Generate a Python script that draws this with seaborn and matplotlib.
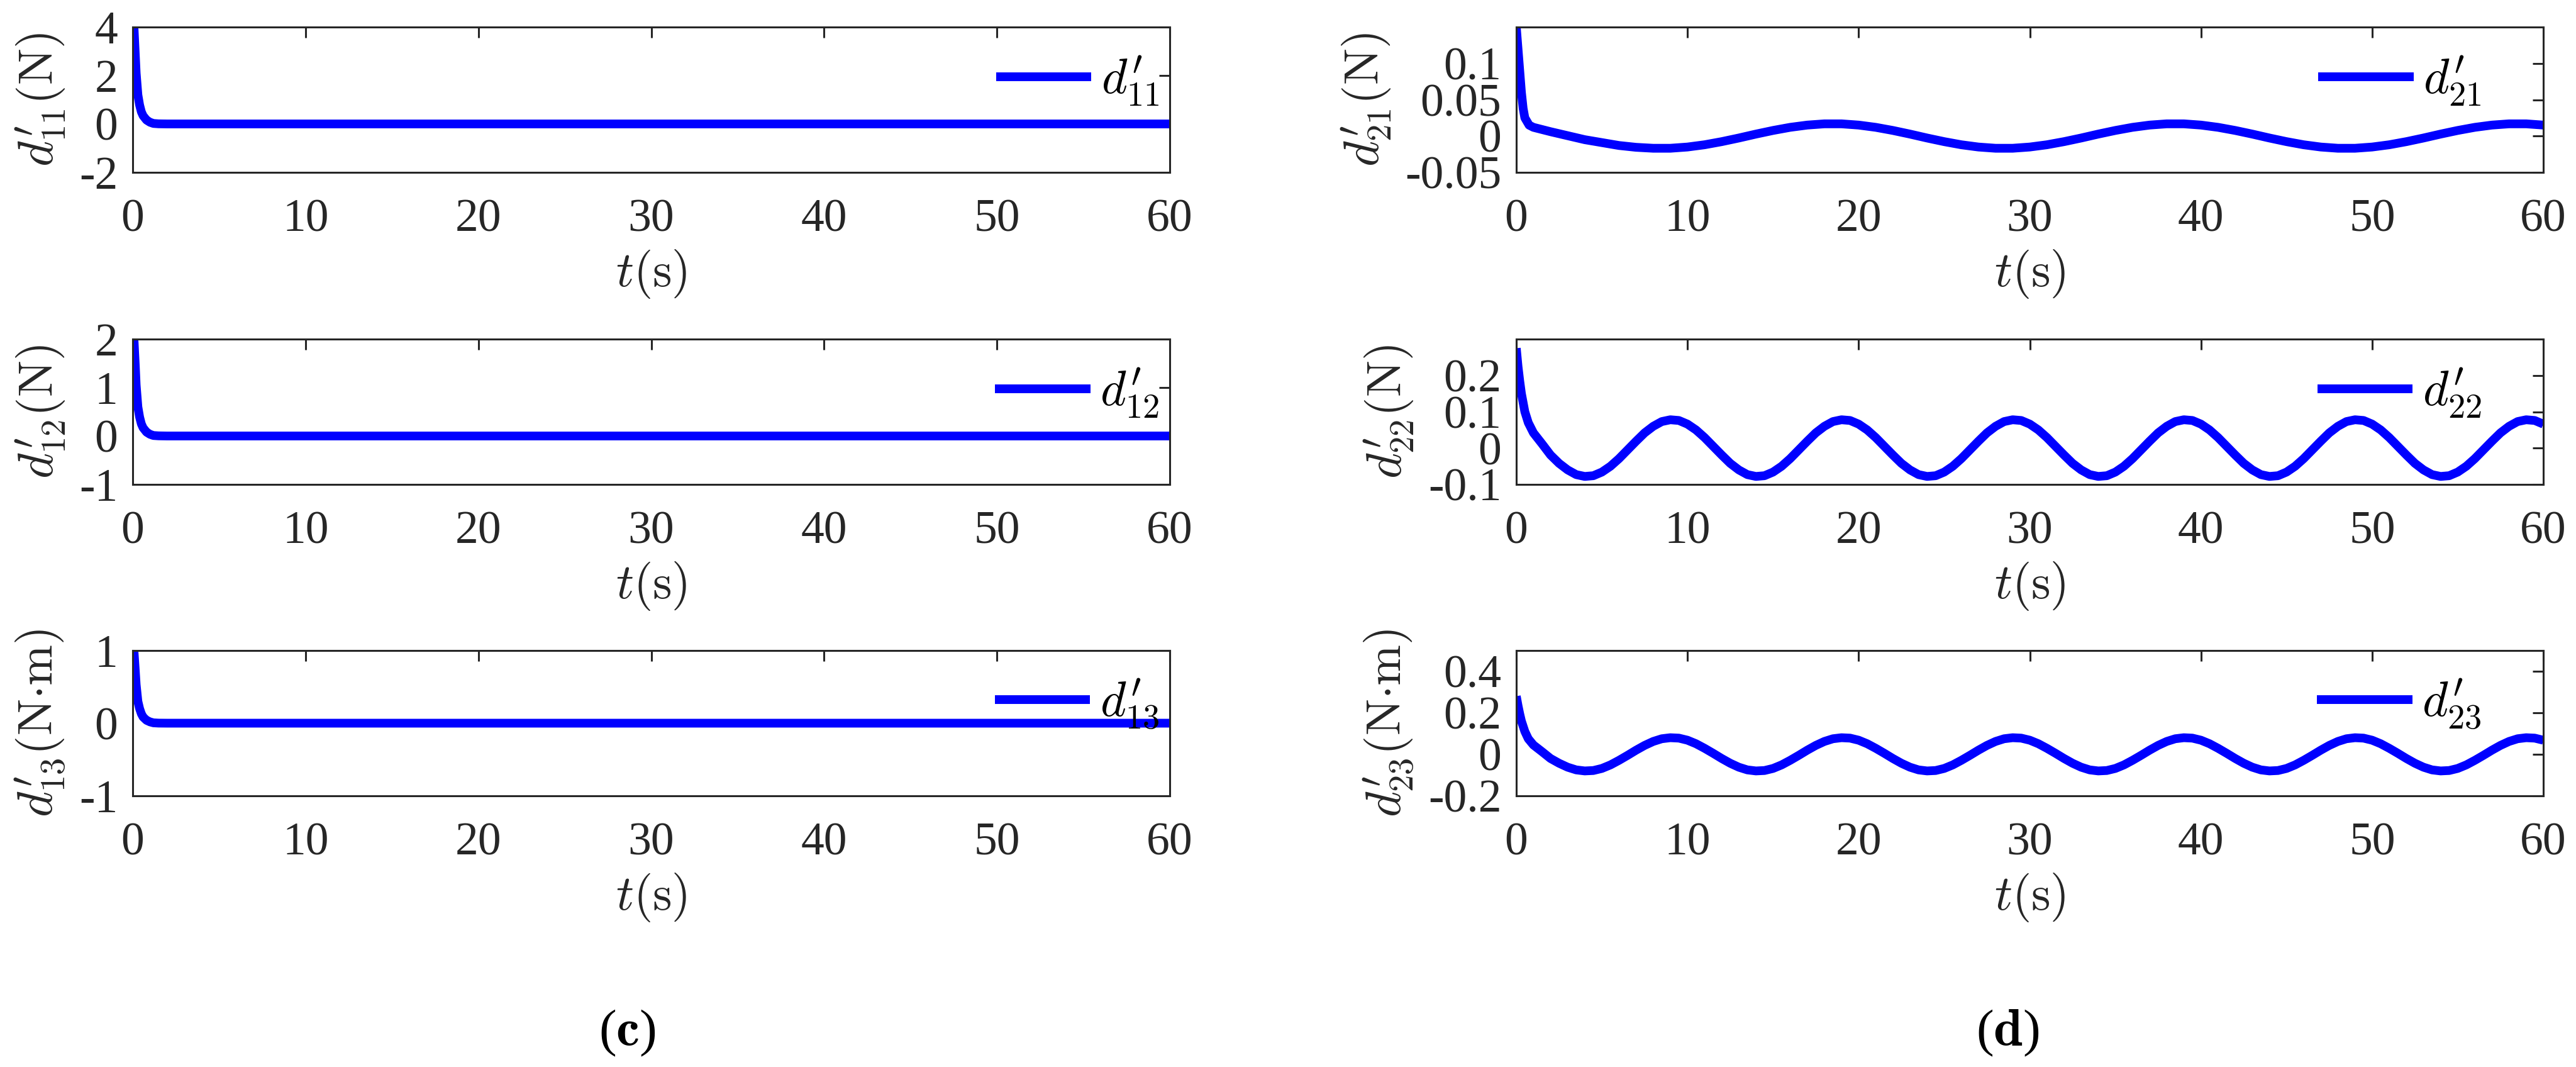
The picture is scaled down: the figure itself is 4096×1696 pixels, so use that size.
import numpy as np
import pandas as pd
import matplotlib
matplotlib.use("Agg")
import matplotlib.pyplot as plt
import seaborn as sns

# ---------------- data ----------------
time_left = [0, 0.08, 0.15, 0.2, 0.3, 0.4, 0.5, 0.6, 0.8, 1.0, 1.2, 1.5, 2, 10, 20, 30, 40, 50, 60]
d11 = [4.0, 3.9, 2.85, 2.1, 1.2, 0.78, 0.5, 0.34, 0.16, 0.07, 0.02, 0.005, 0, 0, 0, 0, 0, 0, 0]
d12 = [2.0, 1.95, 1.45, 1.05, 0.6, 0.39, 0.25, 0.17, 0.08, 0.035, 0.01, 0.003, 0, 0, 0, 0, 0, 0, 0]
d13 = [1.0, 0.97, 0.72, 0.53, 0.3, 0.2, 0.13, 0.085, 0.04, 0.018, 0.005, 0.001, 0, 0, 0, 0, 0, 0, 0]

time_d21 = [0, 0.1, 0.2, 0.3, 0.4, 0.5, 0.75, 1, 2, 3, 4, 5, 6, 7] + list(range(8, 61))
d21 = [0.15, 0.12, 0.09, 0.06, 0.038, 0.025, 0.015, 0.012, 0.006, 0.0005, -0.005, -0.009, -0.013, -0.0155,
       -0.0168, -0.0168, -0.0151, -0.0120, -0.0077, -0.0027, 0.0027, 0.0077, 0.0120, 0.0151,
       0.0168, 0.0168, 0.0151, 0.0120, 0.0077, 0.0027, -0.0027, -0.0077, -0.0120, -0.0151,
       -0.0168, -0.0168, -0.0151, -0.0120, -0.0077, -0.0027, 0.0027, 0.0077, 0.0120, 0.0151,
       0.0168, 0.0168, 0.0151, 0.0120, 0.0077, 0.0027, -0.0027, -0.0077, -0.0120, -0.0151,
       -0.0168, -0.0168, -0.0151, -0.0120, -0.0077, -0.0027, 0.0027, 0.0077, 0.0120, 0.0151,
       0.0168, 0.0168, 0.0151]

time_d2x = [0, 0.1, 0.2, 0.3, 0.5, 0.7, 1.0, 1.5] + [2.0 + 0.5 * k for k in range(117)]
d22 = [0.275, 0.225, 0.185, 0.15, 0.10, 0.07, 0.042, 0.012,
       -0.019, -0.042, -0.060, -0.073, -0.078, -0.076, -0.066, -0.050, -0.029, -0.005,
       0.019, 0.042, 0.060, 0.073, 0.078, 0.076, 0.066, 0.050, 0.029, 0.005,
       -0.019, -0.042, -0.060, -0.073, -0.078, -0.076, -0.066, -0.050, -0.029, -0.005,
       0.019, 0.042, 0.060, 0.073, 0.078, 0.076, 0.066, 0.050, 0.029, 0.005,
       -0.019, -0.042, -0.060, -0.073, -0.078, -0.076, -0.066, -0.050, -0.029, -0.005,
       0.019, 0.042, 0.060, 0.073, 0.078, 0.076, 0.066, 0.050, 0.029, 0.005,
       -0.019, -0.042, -0.060, -0.073, -0.078, -0.076, -0.066, -0.050, -0.029, -0.005,
       0.019, 0.042, 0.060, 0.073, 0.078, 0.076, 0.066, 0.050, 0.029, 0.005,
       -0.019, -0.042, -0.060, -0.073, -0.078, -0.076, -0.066, -0.050, -0.029, -0.005,
       0.019, 0.042, 0.060, 0.073, 0.078, 0.076, 0.066, 0.050, 0.029, 0.005,
       -0.019, -0.042, -0.060, -0.073, -0.078, -0.076, -0.066, -0.050, -0.029, -0.005,
       0.019, 0.042, 0.060, 0.073, 0.078, 0.076, 0.066]
d23 = [0.28, 0.235, 0.195, 0.16, 0.11, 0.075, 0.045, 0.013,
       -0.020, -0.043, -0.062, -0.075, -0.080, -0.078, -0.068, -0.051, -0.029, -0.005,
       0.020, 0.043, 0.062, 0.075, 0.080, 0.078, 0.068, 0.051, 0.029, 0.005,
       -0.020, -0.043, -0.062, -0.075, -0.080, -0.078, -0.068, -0.051, -0.029, -0.005,
       0.020, 0.043, 0.062, 0.075, 0.080, 0.078, 0.068, 0.051, 0.029, 0.005,
       -0.020, -0.043, -0.062, -0.075, -0.080, -0.078, -0.068, -0.051, -0.029, -0.005,
       0.020, 0.043, 0.062, 0.075, 0.080, 0.078, 0.068, 0.051, 0.029, 0.005,
       -0.020, -0.043, -0.062, -0.075, -0.080, -0.078, -0.068, -0.051, -0.029, -0.005,
       0.020, 0.043, 0.062, 0.075, 0.080, 0.078, 0.068, 0.051, 0.029, 0.005,
       -0.020, -0.043, -0.062, -0.075, -0.080, -0.078, -0.068, -0.051, -0.029, -0.005,
       0.020, 0.043, 0.062, 0.075, 0.080, 0.078, 0.068, 0.051, 0.029, 0.005,
       -0.020, -0.043, -0.062, -0.075, -0.080, -0.078, -0.068, -0.051, -0.029, -0.005,
       0.020, 0.043, 0.062, 0.075, 0.080, 0.078, 0.068]

xticks = [0, 10, 20, 30, 40, 50, 60]
yticks_11 = [-2, 0, 2, 4]
yticks_12 = [-1, 0, 1, 2]
yticks_13 = [-1, 0, 1]
yticks_21 = [-0.05, 0, 0.05, 0.1]
ytick_labels_21 = ["-0.05", "0", "0.05", "0.1"]
yticks_22 = [-0.1, 0, 0.1, 0.2]
ytick_labels_22 = ["-0.1", "0", "0.1", "0.2"]
yticks_23 = [-0.2, 0, 0.2, 0.4]
ytick_labels_23 = ["-0.2", "0", "0.2", "0.4"]

ylabels = [r"$d^{\prime}_{11}(\mathrm{N})$", r"$d^{\prime}_{12}(\mathrm{N})$",
           r"$d^{\prime}_{13}(\mathrm{N{\cdot}m})$",
           r"$d^{\prime}_{21}(\mathrm{N})$", r"$d^{\prime}_{22}(\mathrm{N})$",
           r"$d^{\prime}_{23}(\mathrm{N{\cdot}m})$"]
legend_labels = [r"$d^{\prime}_{11}$", r"$d^{\prime}_{12}$", r"$d^{\prime}_{13}$",
                 r"$d^{\prime}_{21}$", r"$d^{\prime}_{22}$", r"$d^{\prime}_{23}$"]
xlabel = r"$t\mathrm{(s)}$"
panel_labels = [r"($\mathbf{c}$)", r"($\mathbf{d}$)"]

# ---------------- style ----------------
sns.set_theme(style="white")
plt.rcParams["font.family"] = ["Liberation Serif", "DejaVu Serif"]
plt.rcParams["mathtext.fontset"] = "cm"
plt.rcParams["axes.unicode_minus"] = False

DARK = "#262626"
BLUE = "#0000ff"
FS = 53

fig = plt.figure(figsize=(40.96, 16.96), dpi=100)
fig.patch.set_facecolor("white")

H = 1696.0
W = 4096.0
row_tops = [43, 539, 1034]
row_h = 231
col_lr = [(211, 1860), (2411, 4044)]

series = [
    (time_left, d11, (-2, 4), yticks_11, None),
    (time_left, d12, (-1, 2), yticks_12, None),
    (time_left, d13, (-1, 1), yticks_13, None),
    (time_d21, d21, (-0.05, 0.15), yticks_21, ytick_labels_21),
    (time_d2x, d22, (-0.1, 0.3), yticks_22, ytick_labels_22),
    (time_d2x, d23, (-0.2, 0.5), yticks_23, ytick_labels_23),
]
legend_right = [0.99, 0.99, 0.99, 0.94, 0.94, 0.94]

for i, (tt, vals, ylim, yt, ytl) in enumerate(series):
    col = i // 3
    row = i % 3
    l, r = col_lr[col]
    top = row_tops[row]
    ax = fig.add_axes([l / W, 1 - (top + row_h) / H, (r - l) / W, row_h / H])
    df = pd.DataFrame({"t": tt, "v": vals})
    sns.lineplot(data=df, x="t", y="v", ax=ax, color=BLUE, linewidth=10,
                 estimator=None, sort=False, label=legend_labels[i],
                 solid_capstyle="butt", solid_joinstyle="round")
    ax.set_xlim(0, 60)
    ax.set_ylim(*ylim)
    ax.set_xticks(xticks)
    ax.set_yticks(yt)
    if ytl is not None:
        ax.set_yticklabels(ytl)
    ax.tick_params(axis="both", direction="in", length=12.5, width=2.2,
                   top=True, right=True, colors=DARK, labelsize=FS)
    ax.tick_params(axis="x", pad=30)
    ax.tick_params(axis="y", pad=17)
    for s in ax.spines.values():
        s.set_color(DARK)
        s.set_linewidth(2.2)
        s.set_visible(True)
    ax.set_xlabel(xlabel, fontsize=56, color=DARK, labelpad=8)
    ax.set_ylabel(ylabels[i], fontsize=56, color=DARK, labelpad=14)
    ax.grid(False)
    leg = ax.legend(loc="center right", bbox_to_anchor=(legend_right[i], 0.63),
                    frameon=False, fontsize=56, handlelength=1.95, handletextpad=0.2,
                    borderpad=0, borderaxespad=0)
    for txt in leg.get_texts():
        txt.set_color("black")

fig.text(997 / W, 1 - 1642 / H, panel_labels[0], fontsize=60, ha="center", va="center", color="black")
fig.text(3192 / W, 1 - 1642 / H, panel_labels[1], fontsize=60, ha="center", va="center", color="black")

fig.savefig("out.png", dpi=100, facecolor="white")
